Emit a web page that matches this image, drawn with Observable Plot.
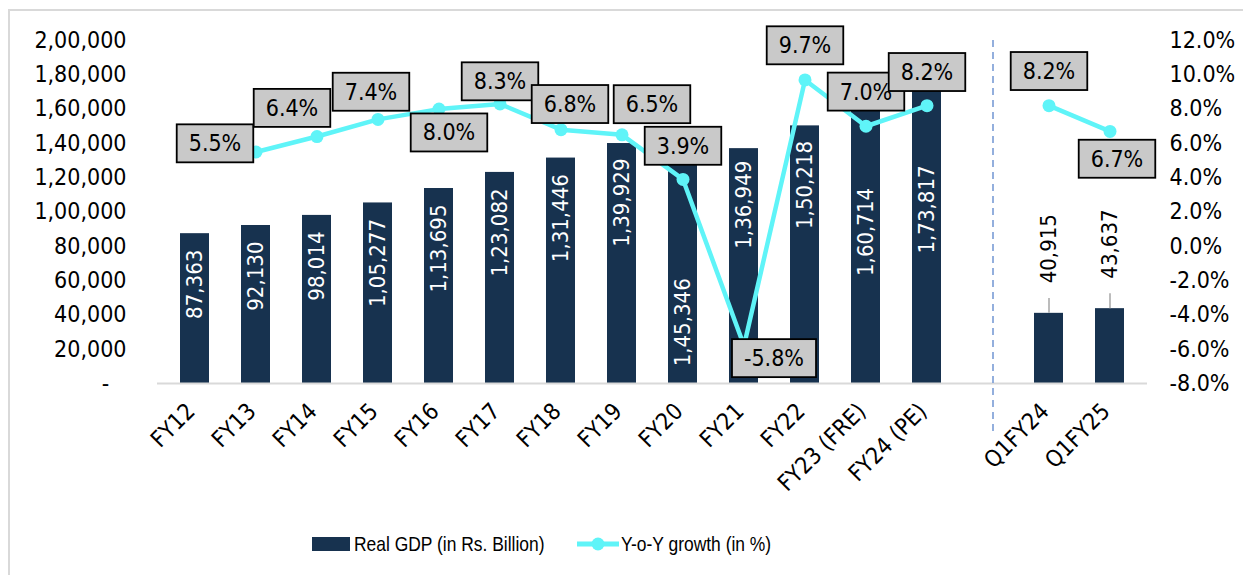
<!DOCTYPE html>
<html>
<head>
<meta charset="utf-8">
<script src="https://cdn.jsdelivr.net/npm/d3@7"></script>
<script src="https://cdn.jsdelivr.net/npm/@observablehq/plot@0.6"></script>
<style>
  html, body { margin: 0; padding: 0; background: #fff; overflow: hidden; }
  #wrap { position: relative; width: 1243px; height: 575px; overflow: hidden; background: #fff; }
  #border { position: absolute; left: 8px; top: 9px; width: 1400px; height: 700px;
            border-left: 2px solid #d9d9d9; border-top: 2px solid #d9d9d9; }
  #chart { position: absolute; left: 0; top: 0; }
  #legend { position: absolute; left: 0; top: 530px; width: 1243px; height: 28px;
            font-family: "Liberation Sans", Arial, sans-serif; font-size: 21px; color: #000; }
  #legend span { position: absolute; top: 0; line-height: 28px; white-space: nowrap;
                 display: inline-block; transform: scaleX(0.83); transform-origin: 0 50%; }
</style>
</head>
<body>
<div id="wrap">
  <div id="border"></div>
  <div id="chart"></div>
  <div id="legend"></div>
</div>
<script>
// ---------------- data ----------------
const categories = ["FY12", "FY13", "FY14", "FY15", "FY16", "FY17", "FY18", "FY19", "FY20", "FY21", "FY22",
                    "FY23 (FRE)", "FY24 (PE)", " ", "Q1FY24", "Q1FY25"];
const realGDP = [87363, 92130, 98014, 105277, 113695, 123082, 131446, 139929, 145346, 136949, 150218,
                 160714, 173817, null, 40915, 43637];
const yoyGrowth = [null, 5.5, 6.4, 7.4, 8.0, 8.3, 6.8, 6.5, 3.9, -5.8, 9.7, 7.0, 8.2, null, 8.2, 6.7];
const leftTicks = [0, 20000, 40000, 60000, 80000, 100000, 120000, 140000, 160000, 180000, 200000];
const rightTicks = [-8, -6, -4, -2, 0, 2, 4, 6, 8, 10, 12];
const seriesNames = ["Real GDP (in Rs. Billion)", "Y-o-Y growth (in %)"];

// ---------------- styling (label nudges, px) ----------------
const growthLabelNudge = [null, [-41, -8], [-25, -28], [-7, -27], [10, 24], [0, -22], [9, -25], [30, -30],
                          [0, -33], [30, 13], [0, -34], [0, -34], [0, -33], null, [0, -34], [7, 28]];
const barLabelDrop = [16, 16, 16, 16, 16, 16, 16, 15, 144, 12, 15, 80, 80, null, -30, -30];

const NAVY = "#17324f";
const CYAN = "#5ff4f8";
const FONT = '"DejaVu Sans Condensed", "DejaVu Sans", sans-serif';

// scale helpers (dual axis)
const Y_MAX = 200000, G_MIN = -8, G_MAX = 12;
const toY = g => (g - G_MIN) / (G_MAX - G_MIN) * Y_MAX;
const fromY = v => v / Y_MAX * (G_MAX - G_MIN) + G_MIN;

function indian(n) {
  const s = String(Math.round(n));
  if (s.length <= 3) return s;
  const last3 = s.slice(-3);
  const rest = s.slice(0, -3).replace(/\B(?=(\d{2})+(?!\d))/g, ",");
  return rest + "," + last3;
}

const rows = categories.map((c, i) => ({
  cat: c, gdp: realGDP[i], growth: yoyGrowth[i],
  gy: yoyGrowth[i] == null ? null : toY(yoyGrowth[i]), i
}));
const barRows = rows.filter(d => d.gdp != null);
const qRows = barRows.filter(d => d.cat.startsWith("Q"));
const gRows = rows.filter(d => d.growth != null);

const barLabelMarks = barRows.map(d => {
  const q = d.cat.startsWith("Q");
  return Plot.text([d], {
    x: "cat", y: "gdp", text: r => indian(r.gdp), rotate: -90,
    textAnchor: q ? "start" : "end", dy: barLabelDrop[d.i],
    fill: q ? "#000" : "#fff", fontSize: 22
  });
});

const growthLabelMarks = gRows.map(d => Plot.text([d], {
  x: "cat", y: "gy", text: r => r.growth.toFixed(1) + "%",
  dx: growthLabelNudge[d.i][0], dy: growthLabelNudge[d.i][1],
  fill: "#000", fontSize: 23, ariaDescription: "growth-label"
}));

const plot = Plot.plot({
  width: 1243, height: 510,
  marginLeft: 157, marginRight: 96, marginTop: 40, marginBottom: 127,
  style: { fontFamily: FONT, fontStretch: "condensed", fontSize: "23px", color: "#000", background: "transparent", overflow: "visible" },
  x: { domain: categories, paddingInner: 0.53, paddingOuter: 0.25, label: null },
  y: { domain: [0, Y_MAX], label: null },
  marks: [
    Plot.axisY({ anchor: "left", ticks: leftTicks, tickSize: 0, tickPadding: 31,
                 tickFormat: v => v === 0 ? "-\u2007\u2009" : indian(v), fontSize: 23, label: null }),
    Plot.axisY({ anchor: "right", ticks: rightTicks.map(toY), tickSize: 0, tickPadding: 22,
                 tickFormat: v => fromY(v).toFixed(1) + "%", fontSize: 23, label: null }),
    Plot.axisX({ tickRotate: -45, tickSize: 0, tickPadding: 24, dx: -4, tickFormat: d => d.trim(), fontSize: 23, label: null }),
    Plot.barY(barRows, { x: "cat", y: "gdp", fill: NAVY }),
    Plot.ruleY([0], { stroke: "#d9d9d9", strokeWidth: 2 }),
    Plot.ruleX([" "], { x: d => d, y1: -28000, y2: Y_MAX, dx: 5, stroke: "#7095d2", strokeWidth: 1.5, strokeDasharray: "7,5" }),
    Plot.ruleX(qRows, { x: "cat", y1: "gdp", y2: d => d.gdp + 8700, stroke: "#a6a6a6", strokeWidth: 1.5 }),
    ...barLabelMarks,
    Plot.line(rows, { x: "cat", y: "gy", stroke: CYAN, strokeWidth: 4.5 }),
    Plot.dot(gRows, { x: "cat", y: "gy", r: 6.5, fill: CYAN, stroke: "none" }),
    ...growthLabelMarks
  ]
});

document.getElementById("chart").appendChild(plot);

// boxes behind growth labels
plot.querySelectorAll('g[aria-description="growth-label"] text').forEach(t => {
  const b = t.getBBox();
  const w = b.width + 24, h = 38;
  const cx = b.x + b.width / 2, cy = b.y + b.height / 2;
  const r = document.createElementNS("http://www.w3.org/2000/svg", "rect");
  r.setAttribute("x", cx - w / 2);
  r.setAttribute("y", cy - h / 2);
  r.setAttribute("width", w);
  r.setAttribute("height", h);
  r.setAttribute("fill", "#c9c9c9");
  r.setAttribute("stroke", "#000");
  r.setAttribute("stroke-width", "1.8");
  const tr = t.getAttribute("transform");
  if (tr) r.setAttribute("transform", tr);
  t.parentNode.insertBefore(r, t);
});

// legend
const legend = document.getElementById("legend");
legend.innerHTML = `
  <div style="position:absolute;left:312px;top:7px;width:38px;height:14px;background:${NAVY}"></div>
  <span style="left:354px">${seriesNames[0]}</span>
  <svg style="position:absolute;left:577px;top:0" width="42" height="28">
    <line x1="0" y1="14" x2="42" y2="14" stroke="${CYAN}" stroke-width="5"/>
    <circle cx="21" cy="14" r="6.5" fill="${CYAN}"/>
  </svg>
  <span style="left:621px">${seriesNames[1]}</span>`;
</script>
</body>
</html>
